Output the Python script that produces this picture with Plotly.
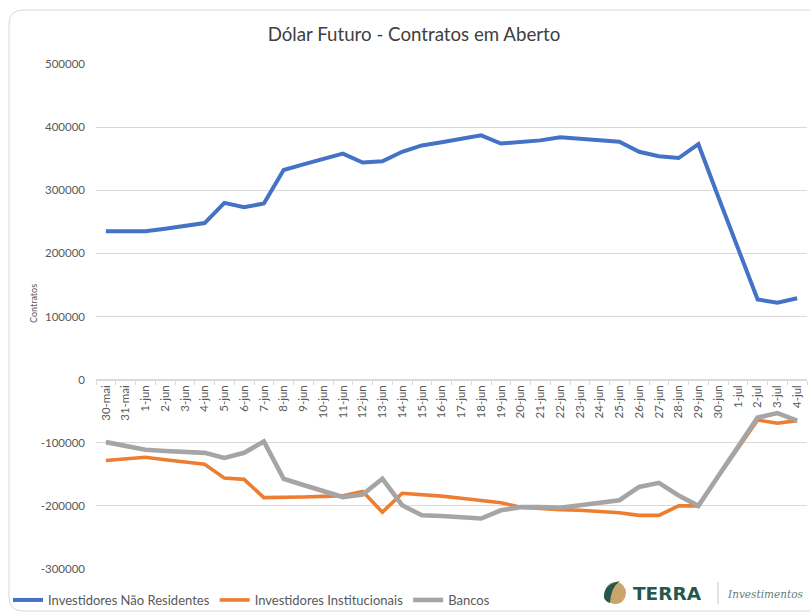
import plotly.graph_objects as go

categories = ["30-mai", "31-mai",
              "1-jun", "2-jun", "3-jun", "4-jun", "5-jun", "6-jun", "7-jun", "8-jun", "9-jun", "10-jun",
              "11-jun", "12-jun", "13-jun", "14-jun", "15-jun", "16-jun", "17-jun", "18-jun", "19-jun", "20-jun",
              "21-jun", "22-jun", "23-jun", "24-jun", "25-jun", "26-jun", "27-jun", "28-jun", "29-jun", "30-jun",
              "1-jul", "2-jul", "3-jul", "4-jul"]

nao_residentes = [235000, 235000, 235000, 239000, 243000, 248000, 280000, 273000, 279000, 332000,
                  341000, 350000, 358000, 344000, 346000, 361000, 371000, 376000, 381000, 387000,
                  374000, 377000, 379000, 384000, 382000, 379000, 377000, 361000, 354000, 351000,
                  373000, 290000, 208000, 127000, 122000, 129000]

institucionais = [-128000, -126000, -123000, -127000, -130000, -134000, -156000, -158000, -187000, -187000,
                  -186000, -185000, -184000, -177000, -210000, -180000, -182000, -184500, -188000, -191000,
                  -195000, -202000, -204500, -206000, -207000, -209000, -211000, -215000, -215000, -200000,
                  -200000, -154000, -108000, -64000, -69000, -65000]

bancos = [-99000, -105000, -111000, -113000, -114000, -116000, -124000, -116000, -98000, -157000,
          -167000, -176000, -186000, -182000, -157000, -199000, -215000, -216000, -218000, -220000,
          -207000, -202000, -202000, -203000, -199000, -195500, -191000, -170000, -163500, -183500,
          -200000, -153000, -106000, -60000, -53000, -65000]

series_names = ["Investidores Não Residentes", "Investidores Institucionais", "Bancos"]
y_ticks = [-300000, -200000, -100000, 0, 100000, 200000, 300000, 400000, 500000]

W, H = 810, 615
ML, MR, MT, MB = 96, 3, 64, 46
PW, PH = W - ML - MR, H - MT - MB
YMIN, YMAX = -300000, 500000


def px(x):
    return (x - ML) / PW


def py(y):
    return (H - MB - y) / PH


FONT = "Lato"
TXT = "#595959"

fig = go.Figure()
colors = ["#4472C4", "#ED7D31", "#A5A5A5"]
widths = [4, 3.6, 4.6]
for name, vals, c, w in zip(series_names, [nao_residentes, institucionais, bancos], colors, widths):
    fig.add_trace(go.Scatter(x=categories, y=vals, mode="lines", name=name,
                             line=dict(color=c, width=w)))

zero_pos = (0 - YMIN) / (YMAX - YMIN)

fig.update_layout(
    width=W, height=H,
    margin=dict(l=ML, r=MR, t=MT, b=MB, autoexpand=False),
    paper_bgcolor="white", plot_bgcolor="white",
    title=dict(text="Dólar Futuro - Contratos em Aberto", x=414 / W, xanchor="center",
               y=1 - 34 / H, yanchor="middle",
               font=dict(family=FONT, size=18.7, color="#404040")),
    xaxis=dict(type="category", anchor="free", position=zero_pos,
               range=[-0.5, len(categories) - 0.5],
               showgrid=False, showline=True, linecolor="#d9d9d9", linewidth=1,
               ticks="outside", ticklen=4, tickcolor="#d9d9d9", tickson="boundaries",
               tickangle=-90, tickfont=dict(family=FONT, size=11.5, color=TXT)),
    yaxis=dict(range=[YMIN, YMAX], tickvals=y_ticks, ticktext=[str(v) for v in y_ticks],
               showgrid=True, gridcolor="#d9d9d9", gridwidth=1, zeroline=False,
               showline=False, ticks="", ticklabelstandoff=10,
               tickfont=dict(family=FONT, size=11.5, color=TXT)),
    legend=dict(orientation="h", x=px(8), xanchor="left", y=py(600), yanchor="middle",
                font=dict(family=FONT, size=13, color=TXT), bgcolor="rgba(0,0,0,0)",
                itemwidth=30, tracegroupgap=0),
    showlegend=True,
)

# y-axis title
fig.add_annotation(text="Contratos", xref="paper", yref="paper", x=px(33), y=py(304),
                   textangle=-90, showarrow=False, xanchor="center", yanchor="middle",
                   font=dict(family=FONT, size=9, color=TXT))

# card border (rounded rectangle)
x0, y0, x1, y1, r = px(9), py(10), px(840), py(611), 14
rx, ry = r / PW, r / PH
path = (f"M {x0+rx},{y0} L {x1-rx},{y0} Q {x1},{y0} {x1},{y0-ry} L {x1},{y1+ry} "
        f"Q {x1},{y1} {x1-rx},{y1} L {x0+rx},{y1} Q {x0},{y1} {x0},{y1+ry} L {x0},{y0-ry} "
        f"Q {x0},{y0} {x0+rx},{y0} Z")
fig.add_shape(type="path", path=path, xref="paper", yref="paper",
              line=dict(color="#d9d9d9", width=1), layer="below")

# logo: icon
fig.add_shape(type="circle", xref="paper", yref="paper",
              x0=px(605), x1=px(626), y0=py(582), y1=py(604),
              fillcolor="#c9a46c", line=dict(width=0))
leaf = (f"M {px(604)},{py(598)} Q {px(603)},{py(584)} {px(620)},{py(581)} "
        f"Q {px(611)},{py(587)} {px(610)},{py(603)} Q {px(606)},{py(602)} {px(604)},{py(598)} Z")
fig.add_shape(type="path", path=leaf, xref="paper", yref="paper",
              fillcolor="#24584f", line=dict(width=0))
fig.add_shape(type="line", xref="paper", yref="paper",
              x0=px(718), x1=px(718), y0=py(582), y1=py(604),
              line=dict(color="#c8c8c8", width=1))
fig.add_annotation(text="<b>TERRA</b>", xref="paper", yref="paper", x=px(631), y=py(593),
                   xanchor="left", yanchor="middle", showarrow=False,
                   font=dict(family="DejaVu Sans", size=18.5, color="#24584f"))
fig.add_annotation(text="<i>Investimentos</i>", xref="paper", yref="paper", x=px(725), y=py(594),
                   xanchor="left", yanchor="middle", showarrow=False,
                   font=dict(family="DejaVu Serif", size=10.5, color="#5e7e78"))

fig.write_html("out.html", config={"displayModeBar": False},
               post_script="document.body.style.margin='0';")
